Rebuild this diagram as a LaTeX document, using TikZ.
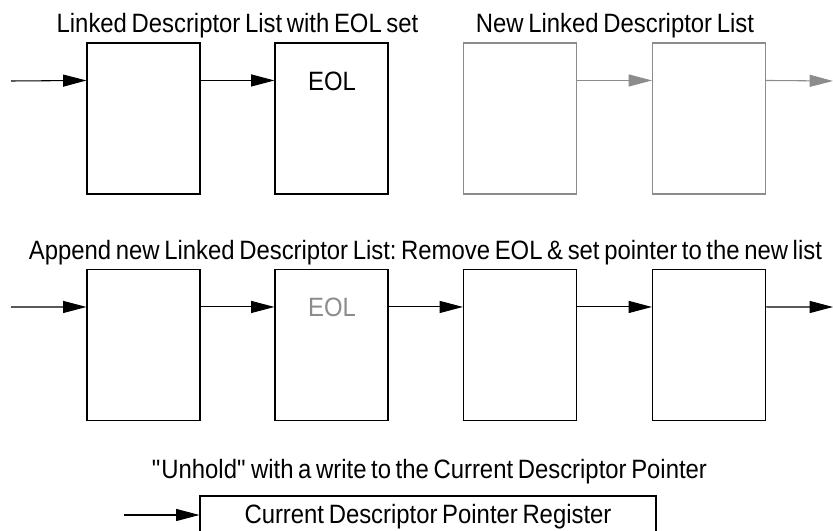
\documentclass[tikz,border=0pt]{standalone}
\usepackage{fontspec}
\setmainfont[FakeStretch=0.9,WordSpace=0.7]{Liberation Sans}
\usetikzlibrary{arrows.meta}
\definecolor{newgray}{gray}{0.55}
\frenchspacing
\tikzset{
  desc/.style={draw, line width=0.8pt, minimum width=84.75pt, minimum height=113.25pt, inner sep=0pt},
  link/.style={-{Triangle[length=17.5pt,width=9pt]}, line width=0.8pt},
  caption/.style={font=\fontsize{19.9pt}{22pt}\selectfont, inner sep=0pt, anchor=base}
}
\begin{document}
\begin{tikzpicture}[x=0.75pt,y=-0.75pt]
  \clip (0,0) rectangle (833,531);
  % before: old list ends with EOL, new list waiting
  \node[caption] (titleA) at (237.5,33) {Linked Descriptor List with EOL set};
  \node[caption] (titleB) at (615,33) {New Linked Descriptor List};
  \node[desc] (oldA) at (143.5,118.5) {};
  \node[desc] (oldB) at (331.5,118.5) {};
  \node[desc, draw=newgray] (newA) at (520,118.5) {};
  \node[desc, draw=newgray] (newB) at (709,118.5) {};
  \node[caption] (eolA) at (332,91) {EOL};
  \coordinate (inA) at (11,81);
  \coordinate (outA) at (833,81);
  \draw[link] (inA) -- ([yshift=-28.5pt]oldA.north west);
  \draw[link] ([yshift=-28.5pt]oldA.north east) -- ([yshift=-28.5pt]oldB.north west);
  \draw[link, newgray] ([yshift=-28.5pt]newA.north east) -- ([yshift=-28.5pt]newB.north west);
  \draw[link, newgray] ([yshift=-28.5pt]newB.north east) -- (outA);
  % after: lists joined
  \node[caption] (titleC) at (425.5,260) {Append new Linked Descriptor List: Remove EOL \& set pointer to the new list};
  \foreach \n/\x in {1/143.5,2/331.5,3/520,4/709}
    \node[desc] (joined\n) at (\x,345) {};
  \node[caption, text=newgray] (eolB) at (332,317) {EOL};
  \coordinate (inB) at (11,307);
  \coordinate (outB) at (833,307);
  \draw[link] (inB) -- ([yshift=-28.5pt]joined1.north west);
  \foreach \a/\b in {1/2,2/3,3/4}
    \draw[link] ([yshift=-28.5pt]joined\a.north east) -- ([yshift=-28.5pt]joined\b.north west);
  \draw[link] ([yshift=-28.5pt]joined4.north east) -- (outB);
  % register write
  \node[caption] (titleD) at (429.5,479) {\textquotedbl Unhold\textquotedbl{} with a write to the Current Descriptor Pointer};
  \node[draw, line width=0.8pt, minimum width=342pt, minimum height=30pt] (cdp) at (428,516) {};
  \node[caption] (cdpText) at (428,523) {Current Descriptor Pointer Register};
  \coordinate (inC) at (124,515);
  \draw[link] (inC) -- (inC -| cdp.west);
\end{tikzpicture}
\end{document}
